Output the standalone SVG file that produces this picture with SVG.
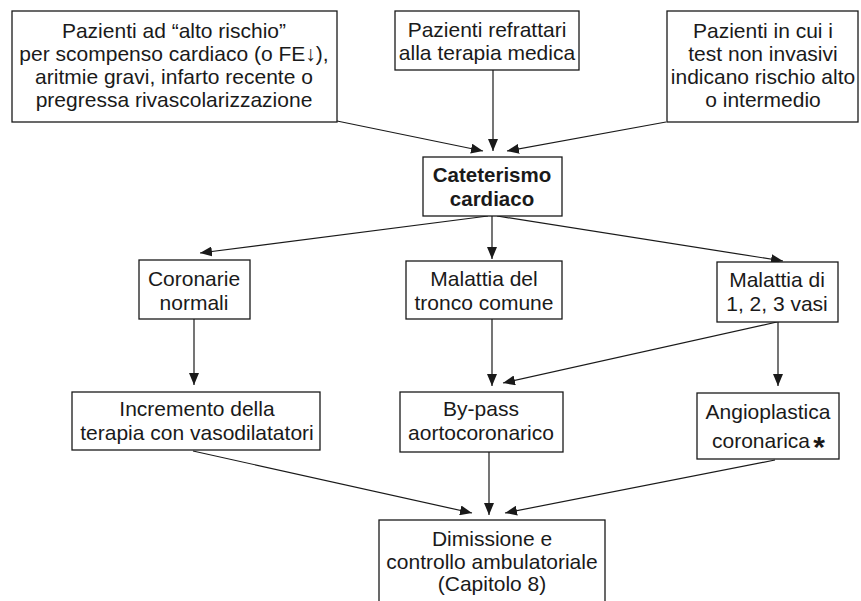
<svg xmlns="http://www.w3.org/2000/svg" width="861" height="601" viewBox="0 0 861 601">
<defs>
<marker id="ah" markerUnits="userSpaceOnUse" markerWidth="12" markerHeight="10" refX="12" refY="5" orient="auto">
<path d="M0,0 L12,5 L0,10 z" fill="#1a1a1a"/>
</marker>
<style>
.box{fill:#fff;stroke:#1a1a1a;stroke-width:1.3}
.t{font-family:"Liberation Sans",Arial,sans-serif;font-size:21px;fill:#1a1a1a;text-anchor:middle}
.b{font-weight:bold;font-size:20.5px}
.t.star{font-size:30px}
.c{stroke:#1a1a1a;stroke-width:1.2;fill:none;marker-end:url(#ah)}
</style>
</defs>
<rect width="861" height="601" fill="#fff"/>
<g id="connectors">
<line class="c" x1="337" y1="121" x2="483" y2="151"/>
<line class="c" x1="493" y1="70" x2="493" y2="151"/>
<line class="c" x1="666" y1="122" x2="507" y2="151"/>
<line class="c" x1="488" y1="216" x2="200" y2="253"/>
<line class="c" x1="492" y1="216" x2="492" y2="259"/>
<line class="c" x1="497" y1="216" x2="783" y2="261"/>
<line class="c" x1="194" y1="319" x2="194" y2="385"/>
<line class="c" x1="492" y1="319" x2="492" y2="386"/>
<line class="c" x1="777" y1="322" x2="503" y2="383"/>
<line class="c" x1="778" y1="322" x2="778" y2="386"/>
<line class="c" x1="193" y1="451" x2="472" y2="513"/>
<line class="c" x1="489" y1="452" x2="489" y2="515"/>
<line class="c" x1="775" y1="460" x2="505" y2="513"/>
</g>
<g id="n1">
<rect class="box" x="12" y="11" width="325" height="111"/>
<text class="t" x="174" y="38">Pazienti ad “alto rischio”</text>
<text class="t" x="174" y="61">per scompenso cardiaco (o FE↓),</text>
<text class="t" x="174" y="84">aritmie gravi, infarto recente o</text>
<text class="t" x="174" y="107">pregressa rivascolarizzazione</text>
</g>
<g id="n2">
<rect class="box" x="395" y="11" width="184" height="59"/>
<text class="t" x="487" y="37">Pazienti refrattari</text>
<text class="t" x="487" y="60">alla terapia medica</text>
</g>
<g id="n3">
<rect class="box" x="667" y="11" width="191" height="111"/>
<text class="t" x="763" y="38">Pazienti in cui i</text>
<text class="t" x="763" y="61">test non invasivi</text>
<text class="t" x="763" y="84">indicano rischio alto</text>
<text class="t" x="763" y="107">o intermedio</text>
</g>
<g id="n4">
<rect class="box" x="423" y="157" width="139" height="59"/>
<text class="t b" x="492" y="182">Cateterismo</text>
<text class="t b" x="492" y="206">cardiaco</text>
</g>
<g id="n5">
<rect class="box" x="139" y="260" width="111" height="59"/>
<text class="t" x="194" y="286">Coronarie</text>
<text class="t" x="194" y="310">normali</text>
</g>
<g id="n6">
<rect class="box" x="406" y="261" width="156" height="58"/>
<text class="t" x="484" y="286">Malattia del</text>
<text class="t" x="484" y="310">tronco comune</text>
</g>
<g id="n7">
<rect class="box" x="717" y="262" width="121" height="60"/>
<text class="t" x="777" y="287">Malattia di</text>
<text class="t" x="777" y="311">1, 2, 3 vasi</text>
</g>
<g id="n8">
<rect class="box" x="72" y="392" width="248" height="58"/>
<text class="t" x="197" y="416">Incremento della</text>
<text class="t" x="197" y="440">terapia con vasodilatatori</text>
</g>
<g id="n9">
<rect class="box" x="400" y="392" width="163" height="60"/>
<text class="t" x="481" y="416">By-pass</text>
<text class="t" x="481" y="440">aortocoronarico</text>
</g>
<g id="n10">
<rect class="box" x="697" y="393" width="142" height="66"/>
<text class="t" x="768" y="419">Angioplastica</text>
<text class="t" x="761" y="448">coronarica</text>
<text class="t b star" x="819" y="457">*</text>
</g>
<g id="n11">
<rect class="box" x="379" y="520" width="226" height="100"/>
<text class="t" x="492" y="546">Dimissione e</text>
<text class="t" x="492" y="569">controllo ambulatoriale</text>
<text class="t" x="492" y="591">(Capitolo 8)</text>
</g>
</svg>
